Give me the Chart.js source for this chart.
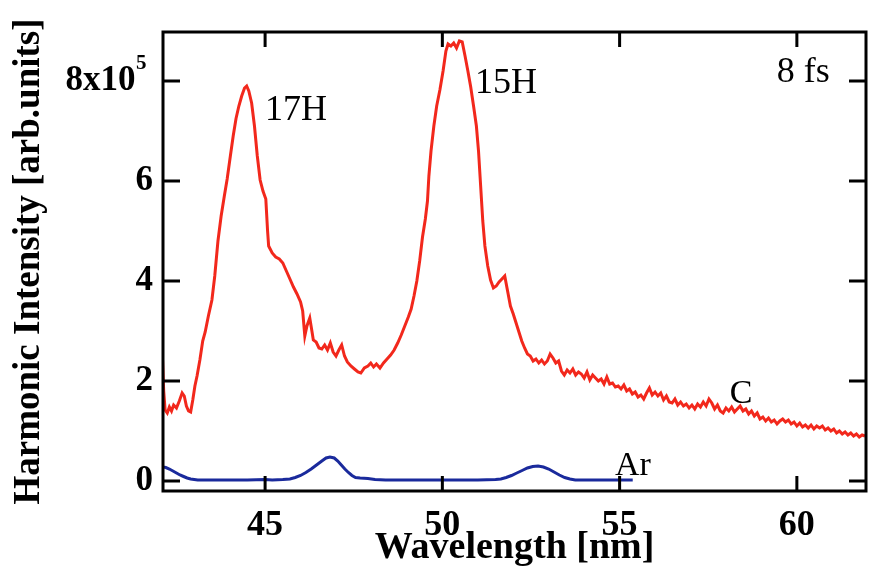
<!DOCTYPE html>
<html>
<head>
<meta charset="utf-8">
<script src="https://cdn.jsdelivr.net/npm/chart.js@4/dist/chart.umd.min.js"></script>
<style>
  html, body { margin: 0; padding: 0; background: #fff; }
  #wrap { width: 870px; height: 578px; }
</style>
</head>
<body>
<div id="wrap"><canvas id="hhg"></canvas></div>
<script>
// carbon plume spectrum (x = wavelength nm, y = intensity / 1e5)
const cWave = [42.10, 42.14, 42.18, 42.24, 42.30, 42.36, 42.42, 42.50, 42.58, 42.66, 42.72, 42.78, 42.84, 42.90, 42.96,
  43.02, 43.08, 43.16, 43.24, 43.31, 43.40, 43.50, 43.58, 43.67, 43.76, 43.85, 43.93, 44.02, 44.10, 44.18, 44.26, 44.34,
  44.42, 44.48, 44.54, 44.62, 44.70, 44.78, 44.86, 44.94, 45.02, 45.07, 45.10, 45.20, 45.30, 45.40, 45.50, 45.60, 45.70,
  45.80, 45.90, 46.00, 46.06, 46.12, 46.18, 46.26, 46.32, 46.36, 46.44, 46.52, 46.60, 46.68, 46.76, 46.84, 46.92, 47.00,
  47.08, 47.16, 47.24, 47.32, 47.42, 47.52, 47.62, 47.70, 47.80, 47.90, 47.98, 48.06, 48.14, 48.24, 48.34, 48.44, 48.54,
  48.64, 48.74, 48.84, 48.94, 49.04, 49.12, 49.20, 49.28, 49.36, 49.44, 49.52, 49.58, 49.62, 49.68, 49.76, 49.84, 49.93,
  50.02, 50.10, 50.16, 50.24, 50.32, 50.40, 50.48, 50.56, 50.64, 50.72, 50.80, 50.88, 50.96, 51.02, 51.08, 51.14, 51.20,
  51.28, 51.36, 51.44, 51.52, 51.60, 51.68, 51.76, 51.84, 51.92, 52.00, 52.08, 52.16, 52.24, 52.32, 52.40, 52.48, 52.56,
  52.64, 52.72, 52.80, 52.88, 52.96, 53.04, 53.12, 53.20, 53.28, 53.36, 53.44, 53.52, 53.60, 53.68, 53.76, 53.84, 53.92,
  54.00, 54.08, 54.16, 54.24, 54.32, 54.40, 54.48, 54.56, 54.64, 54.72, 54.80, 54.88, 54.96, 55.04, 55.12, 55.20, 55.28,
  55.36, 55.44, 55.52, 55.60, 55.68, 55.76, 55.84, 55.92, 56.00, 56.08, 56.16, 56.24, 56.32, 56.40, 56.48, 56.56, 56.64,
  56.72, 56.80, 56.88, 56.96, 57.04, 57.12, 57.20, 57.28, 57.36, 57.44, 57.52, 57.60, 57.68, 57.76, 57.84, 57.92, 58.00,
  58.08, 58.16, 58.24, 58.32, 58.40, 58.48, 58.56, 58.64, 58.72, 58.80, 58.88, 58.96, 59.04, 59.12, 59.20, 59.28, 59.36,
  59.44, 59.52, 59.60, 59.68, 59.76, 59.84, 59.92, 60.00, 60.08, 60.16, 60.24, 60.32, 60.40, 60.48, 60.56, 60.64, 60.72,
  60.80, 60.88, 60.96, 61.04, 61.12, 61.20, 61.28, 61.36, 61.44, 61.52, 61.60, 61.68, 61.76, 61.84, 61.92];
const cInt = [2.56, 1.80, 1.42, 1.36, 1.48, 1.40, 1.52, 1.46, 1.60, 1.76, 1.70, 1.50, 1.40, 1.38, 1.62,
  1.90, 2.10, 2.42, 2.80, 2.98, 3.30, 3.62, 4.10, 4.80, 5.30, 5.70, 6.04, 6.50, 6.90, 7.25, 7.50, 7.70,
  7.86, 7.90, 7.80, 7.56, 7.10, 6.50, 6.02, 5.80, 5.64, 5.00, 4.70, 4.56, 4.48, 4.44, 4.36, 4.20, 4.04,
  3.88, 3.74, 3.58, 3.40, 2.90, 3.10, 3.26, 3.00, 2.82, 2.78, 2.66, 2.64, 2.72, 2.62, 2.76, 2.58, 2.50,
  2.62, 2.72, 2.50, 2.38, 2.30, 2.24, 2.18, 2.16, 2.26, 2.30, 2.36, 2.28, 2.34, 2.26, 2.36, 2.44, 2.52,
  2.62, 2.76, 2.92, 3.10, 3.28, 3.44, 3.70, 4.00, 4.40, 4.88, 5.24, 5.60, 6.10, 6.60, 7.10, 7.50, 7.82,
  8.20, 8.60, 8.74, 8.70, 8.76, 8.66, 8.80, 8.78, 8.50, 8.20, 7.88, 7.50, 7.10, 6.60, 5.90, 5.20, 4.70,
  4.30, 4.02, 3.86, 3.90, 3.98, 4.04, 4.10, 3.80, 3.50, 3.34, 3.16, 2.98, 2.80, 2.66, 2.54, 2.50, 2.40,
  2.44, 2.36, 2.42, 2.34, 2.40, 2.54, 2.46, 2.36, 2.40, 2.20, 2.12, 2.22, 2.16, 2.24, 2.12, 2.18, 2.14,
  2.06, 2.18, 2.02, 2.12, 2.06, 2.00, 2.04, 1.94, 2.08, 1.94, 1.96, 1.88, 1.90, 1.84, 1.92, 1.80, 1.84,
  1.74, 1.78, 1.68, 1.72, 1.64, 1.76, 1.86, 1.72, 1.78, 1.70, 1.76, 1.62, 1.70, 1.58, 1.56, 1.64, 1.52,
  1.58, 1.50, 1.54, 1.46, 1.52, 1.44, 1.54, 1.48, 1.58, 1.50, 1.64, 1.56, 1.44, 1.52, 1.40, 1.36, 1.46,
  1.40, 1.48, 1.38, 1.44, 1.50, 1.40, 1.44, 1.34, 1.40, 1.30, 1.36, 1.24, 1.28, 1.20, 1.26, 1.18, 1.22,
  1.14, 1.20, 1.24, 1.18, 1.22, 1.14, 1.18, 1.10, 1.16, 1.08, 1.12, 1.06, 1.12, 1.04, 1.10, 1.06, 1.10,
  1.02, 1.06, 1.00, 1.04, 0.96, 1.00, 0.94, 0.98, 0.92, 0.96, 0.90, 0.94, 0.88, 0.92, 0.90];

// argon gas spectrum
const arWave = [42.10, 42.20, 42.30, 42.40, 42.50, 42.60, 42.70, 42.80, 42.90, 43.00, 43.10, 43.50, 44.00, 44.50,
  45.00, 45.20, 45.50, 45.70, 45.85, 46.00, 46.15, 46.30, 46.45, 46.60, 46.72, 46.83, 46.95, 47.05, 47.15, 47.25,
  47.35, 47.45, 47.55, 47.68, 47.90, 48.10, 48.40, 49.00, 49.50, 50.00, 50.50, 51.00, 51.50, 51.65, 51.80, 51.95,
  52.10, 52.25, 52.40, 52.55, 52.70, 52.85, 53.00, 53.15, 53.30, 53.45, 53.60, 53.75, 54.00, 54.50, 55.00, 55.37];
const arInt = [0.28, 0.27, 0.24, 0.20, 0.16, 0.12, 0.09, 0.06, 0.04, 0.03, 0.02, 0.02, 0.02, 0.02,
  0.03, 0.02, 0.03, 0.04, 0.07, 0.11, 0.17, 0.24, 0.32, 0.40, 0.46, 0.48, 0.46, 0.40, 0.32, 0.24,
  0.17, 0.11, 0.07, 0.06, 0.05, 0.03, 0.02, 0.02, 0.02, 0.02, 0.02, 0.02, 0.03, 0.04, 0.07, 0.11,
  0.16, 0.21, 0.26, 0.29, 0.30, 0.28, 0.24, 0.18, 0.12, 0.07, 0.04, 0.02, 0.02, 0.02, 0.02, 0.02];

const xTicks = [45, 50, 55, 60];
const yTicks = [0, 2, 4, 6, 8];
const yTickLabels = ['0', '2', '4', '6', '8x10  '];
const yTopExponent = '5';

// text placed on the plot (data coords)
const notes = [
  { text: '17H', x: 45.0, y: 7.22, size: 36 },
  { text: '15H', x: 50.92, y: 7.76, size: 36 },
  { text: '8 fs', x: 59.43, y: 7.98, size: 36 },
  { text: 'C', x: 58.11, y: 1.56, size: 34 },
  { text: 'Ar', x: 54.87, y: 0.12, size: 34 },
];

const SERIF = "'Liberation Serif', 'Times New Roman', serif";

const framePlugin = {
  id: 'frame',
  afterDraw(chart) {
    const { ctx, chartArea: a, scales } = chart;
    ctx.save();
    ctx.strokeStyle = '#000';
    ctx.lineWidth = 3;
    ctx.strokeRect(a.left, a.top, a.right - a.left, a.bottom - a.top);
    ctx.beginPath();
    xTicks.forEach(v => {
      const px = scales.x.getPixelForValue(v);
      ctx.moveTo(px, a.bottom); ctx.lineTo(px, a.bottom - 15);
      ctx.moveTo(px, a.top); ctx.lineTo(px, a.top + 15);
    });
    yTicks.forEach(v => {
      const py = scales.y.getPixelForValue(v);
      ctx.moveTo(a.left, py); ctx.lineTo(a.left + 17, py);
      ctx.moveTo(a.right, py); ctx.lineTo(a.right - 17, py);
    });
    ctx.stroke();

    ctx.fillStyle = '#000';
    ctx.textAlign = 'left';
    ctx.textBaseline = 'alphabetic';
    notes.forEach(n => {
      ctx.font = n.size + 'px ' + SERIF;
      ctx.fillText(n.text, scales.x.getPixelForValue(n.x), scales.y.getPixelForValue(n.y));
    });

    // exponent of the top y label
    ctx.font = 'bold 21px ' + SERIF;
    ctx.fillText(yTopExponent, a.left - 27, scales.y.getPixelForValue(yTicks[yTicks.length - 1]) - 12);
    ctx.restore();
  }
};

new Chart(document.getElementById('hhg'), {
  type: 'line',
  data: {
    datasets: [
      {
        label: 'C',
        data: cWave.map((w, i) => ({ x: w, y: cInt[i] })),
        borderColor: '#f2281c',
        borderWidth: 3,
        pointRadius: 0,
        tension: 0,
      },
      {
        label: 'Ar',
        data: arWave.map((w, i) => ({ x: w, y: arInt[i] })),
        borderColor: '#1a2a9c',
        borderWidth: 3,
        pointRadius: 0,
        tension: 0,
      }
    ]
  },
  options: {
    responsive: true,
    maintainAspectRatio: false,
    animation: false,
    layout: { padding: { left: 0, right: 4, top: 32, bottom: 0 } },
    plugins: {
      legend: { display: false },
      tooltip: { enabled: false }
    },
    scales: {
      x: {
        type: 'linear',
        min: 42.12,
        max: 61.95,
        grid: { display: false, drawTicks: false },
        border: { display: false },
        afterBuildTicks: s => { s.ticks = xTicks.map(v => ({ value: v })); },
        afterFit: s => { s.height = 87; },
        ticks: {
          padding: 13,
          color: '#000',
          font: { family: SERIF, size: 36, weight: 'bold' },
          callback: v => String(v)
        },
        title: {
          display: true,
          text: 'Wavelength [nm]',
          color: '#000',
          padding: { top: 0, bottom: 7 },
          font: { family: SERIF, size: 38, weight: 'bold' }
        }
      },
      y: {
        min: -0.2,
        max: 8.98,
        grid: { display: false, drawTicks: false },
        border: { display: false },
        afterBuildTicks: s => { s.ticks = yTicks.map(v => ({ value: v })); },
        afterFit: s => { s.width = 163; },
        ticks: {
          padding: 10,
          color: '#000',
          font: { family: SERIF, size: 35, weight: 'bold' },
          callback: v => yTickLabels[yTicks.indexOf(v)]
        },
        title: {
          display: true,
          text: 'Harmonic Intensity [arb.units]',
          color: '#000',
          padding: { top: 7, bottom: 0 },
          font: { family: SERIF, size: 37, weight: 'bold' }
        }
      }
    }
  },
  plugins: [framePlugin]
});
</script>
</body>
</html>
